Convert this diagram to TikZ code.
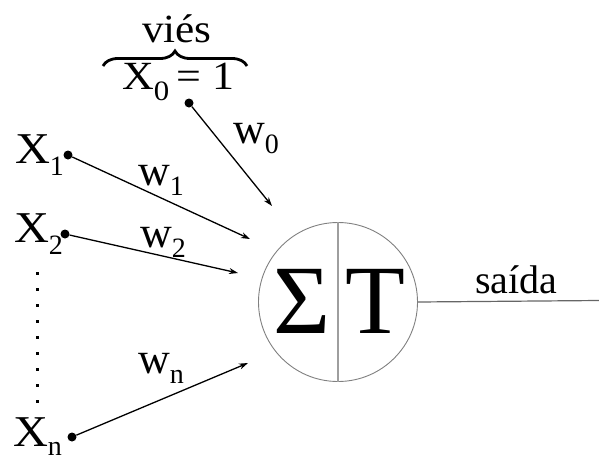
\documentclass[tikz,border=0pt]{standalone}
\usepackage{fontspec}
\usepackage{graphicx}
\setmainfont{Liberation Serif}
\usetikzlibrary{arrows.meta,decorations.pathreplacing}
\newcommand{\lowsub}[2][12pt]{\raisebox{-#1}{\fontsize{28}{30}\selectfont #2}}
\newcommand{\widen}[2][1.1]{\scalebox{#1}[1]{#2}}
\tikzset{
  lbl/.style={inner sep=0pt, outer sep=0pt, anchor=base west, font=\fontsize{44}{48}\selectfont},
  dotn/.style={circle, fill=black, inner sep=0pt, minimum size=9pt},
  arr/.style={line width=1.3pt, -{Stealth[length=9pt,width=6pt]}},
}
\begin{document}
\begin{tikzpicture}[x=1pt,y=-1pt]
\useasboundingbox (0,0) rectangle (599,461);
% neuron
\node[circle, draw=black!50, line width=0.9pt, minimum size=159pt, inner sep=0pt] (neuron) at (338,302) {};
\draw[black!38, line width=1.4pt] (neuron.north) -- (neuron.south);
\node[inner sep=0pt, anchor=base, font=\fontsize{98}{100}\selectfont] (sig) at (302.5,333) {Σ};
\node[inner sep=0pt, anchor=base, font=\fontsize{98}{100}\selectfont] (tt) at (375.5,333) {T};
% output
\coordinate (out) at (599,300.5);
\draw[black!60, line width=1.2pt] (neuron.east) -- (out);
\node[lbl, font=\fontsize{40}{44}\selectfont] (said) at (475,293) {saída};
% bias
\node[lbl, font=\fontsize{40}{44}\selectfont] (vies) at (142,42) {\widen[1.08]{viés}};
\node[lbl, font=\fontsize{40}{44}\selectfont] (x0) at (122,89) {\widen[1.1]{X\lowsub[11pt]{0}\,= 1}};
\coordinate (bl) at (103,66);
\coordinate (br) at (247,66);
\draw[line width=2.8pt, decorate, decoration={brace, amplitude=15pt}] (bl) -- (br);
% inputs
\node[lbl] (x1) at (15,163) {\widen{X}\lowsub{1}};
\node[lbl] (x2) at (14,242) {\widen{X}\lowsub{2}};
\node[lbl] (xn) at (13,446) {\widen{X}\lowsub[9pt]{n}};
\node[dotn] (d0) at (189,103) {};
\node[dotn] (d1) at (68,155) {};
\node[dotn] (d2) at (65,234) {};
\node[dotn] (dn) at (72,437) {};
\coordinate (t0) at (272,206);
\coordinate (t1) at (250,239);
\coordinate (t2) at (238,273);
\coordinate (tn) at (248,363);
\draw[arr] (d0) -- (t0);
\draw[arr] (d1) -- (t1);
\draw[arr] (d2) -- (t2);
\draw[arr] (dn) -- (tn);
% weights
\node[lbl] (w0) at (233,143) {w\lowsub[10pt]{0}};
\node[lbl] (w1) at (138,185) {w\lowsub[10pt]{1}};
\node[lbl] (w2) at (140,247) {w\lowsub[10pt]{2}};
\node[lbl] (wn) at (138,373) {w\lowsub[10pt]{n}};
% vertical dots
\foreach \i in {0,...,8} {
  \fill (35.5,271.5+16*\i) rectangle ++(3,3);
}
\end{tikzpicture}
\end{document}
